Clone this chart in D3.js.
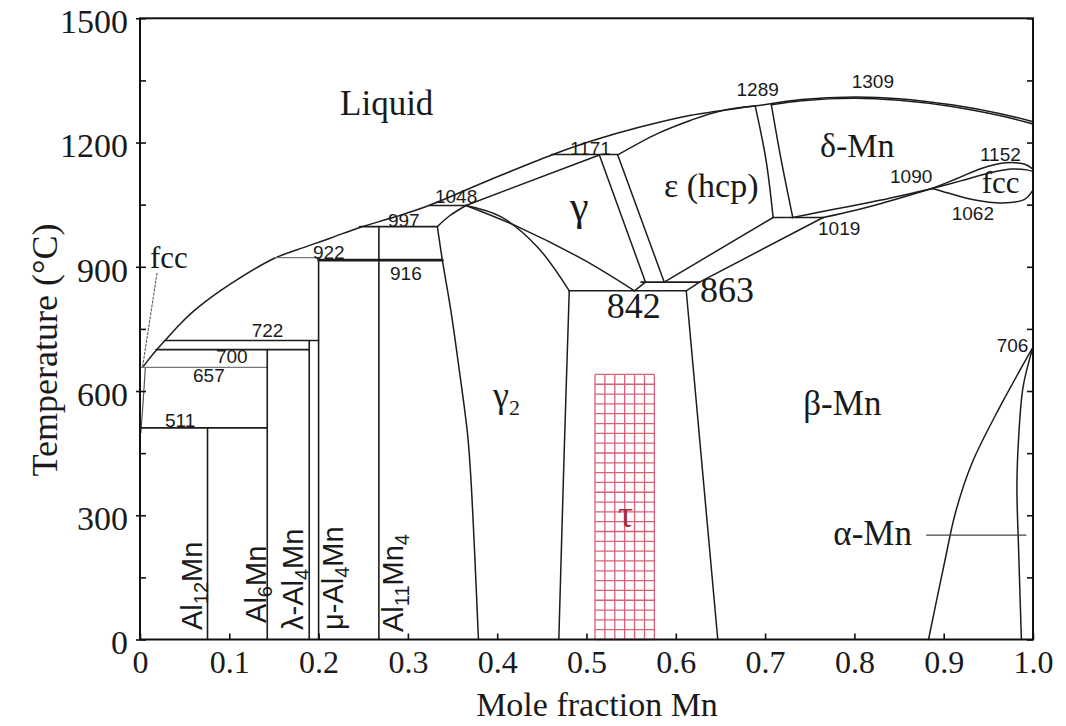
<!DOCTYPE html>
<html>
<head>
<meta charset="utf-8">
<script src="https://cdn.jsdelivr.net/npm/d3@7"></script>
<style>
  body { margin: 0; background: #fff; }
  svg text { fill: #1a1a1a; }
</style>
</head>
<body>
<svg id="chart" width="1066" height="726"></svg>
<script>
// ---------- axis ticks ----------
const xTickValues = [0, 0.1, 0.2, 0.3, 0.4, 0.5, 0.6, 0.7, 0.8, 0.9, 1.0];
const xTickLabels = ["0", "0.1", "0.2", "0.3", "0.4", "0.5", "0.6", "0.7", "0.8", "0.9", "1.0"];
const yTickValues = [0, 300, 600, 900, 1200, 1500];
const yTickLabels = ["0", "300", "600", "900", "1200", "1500"];
const yMinorTicks = [150, 450, 750, 1050, 1350];

// ---------- phase boundaries: [mole fraction Mn, temperature °C] ----------
const liquidus = [[0.003,657],[0.01,677],[0.018,698],[0.028,722],[0.045,762],[0.064,800],
  [0.101,858],[0.15,920],[0.176,941],[0.213,969],[0.246,995],[0.285,1020],[0.3236,1048],
  [0.392,1110],[0.461,1170],[0.509,1206],[0.561,1238],[0.617,1266],[0.688,1288],
  [0.741,1304],[0.80,1310],[0.85,1306],[0.909,1291],[0.965,1269],[1.0,1250]];
const epsilonSolidus = [[0.535,1170],[0.58,1222],[0.617,1254],[0.651,1277],[0.688,1288]];
const deltaSolidus = [[0.707,1291],[0.741,1301],[0.80,1307],[0.85,1302],[0.909,1287],[0.965,1264],[1.0,1245]];
const epsDeltaLeft = [[0.689,1288],[0.701,1158],[0.709,1019]];
const epsDeltaRight = [[0.707,1291],[0.718,1158],[0.731,1019]];
const epsilonLower = [[0.587,863],[0.709,1019]];
const betaUpper = [[0.6266,863],[0.765,1019]];
const deltaLower = [[0.731,1019],[0.78,1040],[0.83,1061],[0.887,1089]];
const deltaBetaLower = [[0.765,1019],[0.80,1036],[0.83,1053],[0.887,1089]];
const fccUpperOuter = [[0.887,1089],[0.915,1113],[0.943,1138],[0.97,1151],[0.99,1148],[1.0,1136]];
const fccUpperInner = [[0.887,1089],[0.92,1108],[0.95,1126],[0.975,1136],[0.993,1134],[1.0,1130]];
const fccLower = [[0.887,1089],[0.905,1078],[0.935,1061],[0.965,1054],[0.99,1062],[1.0,1085]];
const alphaLeft = [[1.0,706],[0.965,570],[0.9315,425],[0.913,305],[0.9015,192],[0.883,0]];
const alphaRight = [[1.0,706],[0.989,611],[0.984,490],[0.982,370],[0.984,209],[0.987,0]];
const alphaLeader = [[0.881,252],[0.992,252]];
const gamma2Left = [[0.333,997],[0.3386,916],[0.348,796],[0.357,659],[0.3667,498],[0.3704,394],[0.379,0]];
const gamma2Top = [[0.333,997],[0.346,1022],[0.365,1048]];
const gamma2Right = [[0.365,1048],[0.404,1021],[0.445,948],[0.4807,842]];
const tauLeft = [[0.4807,842],[0.4751,458],[0.469,0]];
const tauRight = [[0.6117,842],[0.647,0]];
const gammaEutectoid = [[0.365,1048],[0.4228,997],[0.4975,916],[0.5537,842]];
const gammaSolidus = [[0.365,1048],[0.5144,1170]];
const gammaEpsA = [[0.5144,1170],[0.566,863]];
const gammaEpsB = [[0.535,1170],[0.587,863]];
const link842 = [[0.5537,842],[0.566,863]];
const link863 = [[0.6117,842],[0.6266,863]];
const alSolvus = [[0.006,657],[0.004,590],[0.001,500]];
const fccLeader = [[0.003,660],[0.019,884]];

// invariant reactions: [temperature, from x, to x]
const isotherms = [[511,0,0.1425],[657,0,0.1425],[700,0.018,0.1895],[722,0.028,0.2],
  [922,0.15,0.2],[916,0.2,0.3386],[997,0.246,0.333],[1048,0.3236,0.365],
  [1171,0.461,0.535],[842,0.4807,0.6117],[863,0.561,0.6266],[1019,0.709,0.765]];

// intermetallic line compounds: name parts, composition, upper temperature
const compoundNames = [["Al","12","Mn",""],["Al","6","Mn",""],["λ-Al","4","Mn",""],["μ-Al","4","Mn",""],["Al","11","Mn","4"]];
const compoundX = [0.0756, 0.1425, 0.1895, 0.2, 0.2675];
const compoundTop = [511, 700, 722, 922, 997];
const compoundLabelAt = [[0.069,23],[0.141,40],[0.1825,23],[0.2273,23],[0.2945,18]];

// temperature annotations: text, anchor [x, T]
const tempLabels = ["1289","1309","1171","1048","997","922","916","722","700","657","511","1152","1090","1062","1019","706"];
const tempLabelAt = [[0.668,1312],[0.797,1331],[0.4815,1170],[0.3303,1053],[0.2777,997],
  [0.1937,918],[0.28,868],[0.1251,731],[0.0851,667],[0.0594,622],[0.028,514],
  [0.9406,1156],[0.8399,1102],[0.909,1013],[0.7593,977],[0.9593,695]];

// phase-field names: text, anchor [x, T]
const phaseNames = ["Liquid","γ","ε (hcp)","δ-Mn","fcc","fcc","β-Mn","α-Mn","842","863"];
const phaseAt = [[0.224,1266],[0.4815,1013],[0.5868,1068],[0.7615,1165],[0.9426,1077],
  [0.0112,896],[0.7428,542],[0.7764,228],[0.5226,776],[0.6271,816]];
const phaseSize = [35, 42, 34, 34, 31, 31, 35, 35, 36, 36];

// τ phase field
const tauX = [0.5095, 0.576];
const tauTop = 640;

// ---------- drawing ----------
const svg = d3.select("#chart");
const x = d3.scaleLinear().domain([0, 1]).range([140, 1033]);
const y = d3.scaleLinear().domain([0, 1500]).range([639.5, 18.3]);

const SERIF = "'Liberation Serif', 'Times New Roman', serif";
const SANS = "'Liberation Sans', Arial, sans-serif";
const INK = "#1c1c1c";

// τ hatched field
const hatch = svg.append("g").attr("stroke", "#d4506a").attr("stroke-width", 1.3).attr("opacity", 0.9);
const hx0 = x(tauX[0]), hx1 = x(tauX[1]), hy0 = y(tauTop), hy1 = y(0);
const nCols = 6, nRows = 27;
d3.range(nCols + 1).forEach(i => {
  const px = hx0 + (hx1 - hx0) * i / nCols;
  hatch.append("line").attr("x1", px).attr("x2", px).attr("y1", hy0).attr("y2", hy1);
});
d3.range(nRows + 1).forEach(i => {
  const py = hy0 + (hy1 - hy0) * i / nRows;
  hatch.append("line").attr("x1", hx0).attr("x2", hx1).attr("y1", py).attr("y2", py);
});

const curved = d3.line().x(d => x(d[0])).y(d => y(d[1])).curve(d3.curveCatmullRom.alpha(0.5));
const straight = d3.line().x(d => x(d[0])).y(d => y(d[1]));

const lines = svg.append("g").attr("fill", "none").attr("stroke", INK)
  .attr("stroke-width", 1.5).attr("stroke-linejoin", "round").attr("stroke-linecap", "round");

function draw(pts, smooth, width, color) {
  lines.append("path").attr("d", (smooth ? curved : straight)(pts))
    .attr("stroke-width", width || 1.5).attr("stroke", color || INK);
}

[liquidus, epsilonSolidus, deltaSolidus, epsDeltaLeft, epsDeltaRight, deltaLower, deltaBetaLower,
 fccUpperOuter, fccUpperInner, fccLower, alphaLeft, alphaRight, gamma2Left, gamma2Top,
 gamma2Right, tauLeft, gammaEutectoid].forEach(p => draw(p, true));
[epsilonLower, betaUpper, tauRight, gammaSolidus, gammaEpsA, gammaEpsB, link842, link863]
  .forEach(p => draw(p, false));
draw(alphaLeader, false, 1.3, "#444");
draw(alSolvus, true, 1.2, "#555");
lines.append("path").attr("d", straight(fccLeader)).attr("stroke", "#666")
  .attr("stroke-width", 1.2).attr("stroke-dasharray", "2,2");

// isotherms
isotherms.forEach(([T, a, b]) => {
  const thin = (T === 657 || T === 922);
  const heavy = (T === 916);
  lines.append("line").attr("x1", x(a)).attr("x2", x(b)).attr("y1", y(T)).attr("y2", y(T))
    .attr("stroke", thin ? "#777" : INK).attr("stroke-width", heavy ? 2.6 : (thin ? 1.3 : 1.6));
});

// compound lines
compoundX.forEach((cx, i) => {
  lines.append("line").attr("x1", x(cx)).attr("x2", x(cx)).attr("y1", y(compoundTop[i])).attr("y2", y(0))
    .attr("stroke-width", 1.6);
});

// frame and ticks
svg.append("rect").attr("x", x(0)).attr("y", y(1500)).attr("width", x(1) - x(0)).attr("height", y(0) - y(1500))
  .attr("fill", "none").attr("stroke", "#111").attr("stroke-width", 2);

function tickMarks(axis, tr, values, size) {
  const g = svg.append("g").attr("transform", tr)
    .call(axis.tickValues(values).tickSize(size).tickFormat(""));
  g.select(".domain").remove();
  g.selectAll("line").attr("stroke", "#111").attr("stroke-width", 1.6);
}
tickMarks(d3.axisBottom(x), `translate(0,${y(0)})`, xTickValues, -6);
tickMarks(d3.axisLeft(y), `translate(${x(0)},0)`, yTickValues.concat(yMinorTicks), -6);
tickMarks(d3.axisLeft(y), `translate(${x(0)},0)`, yTickValues, 4);
tickMarks(d3.axisRight(y), `translate(${x(1)},0)`, yTickValues.concat(yMinorTicks), -6);

// tick labels
const xl = svg.append("g").attr("transform", `translate(0,${y(0)})`)
  .call(d3.axisBottom(x).tickValues(xTickValues).tickSize(0).tickPadding(11)
    .tickFormat((d, i) => xTickLabels[i]));
xl.select(".domain").remove();
xl.selectAll("text").attr("font-family", SERIF).attr("font-size", 32).attr("fill", INK);

const yl = svg.append("g").attr("transform", `translate(${x(0)},0)`)
  .call(d3.axisLeft(y).tickValues(yTickValues).tickSize(0).tickPadding(12)
    .tickFormat((d, i) => yTickLabels[i]));
yl.select(".domain").remove();
yl.selectAll("text").attr("font-family", SERIF).attr("font-size", 34).attr("fill", INK).attr("dy", "0.42em");

// axis titles
svg.append("text").attr("x", 597).attr("y", 716).attr("text-anchor", "middle")
  .attr("font-family", SERIF).attr("font-size", 34).text("Mole fraction Mn");
svg.append("text").attr("transform", "translate(57,350) rotate(-90)").attr("text-anchor", "middle")
  .attr("font-family", SERIF).attr("font-size", 36).text("Temperature (°C)");

// temperature annotations
tempLabels.forEach((t, i) => {
  svg.append("text").attr("x", x(tempLabelAt[i][0])).attr("y", y(tempLabelAt[i][1]))
    .attr("font-family", SANS).attr("font-size", 19).attr("fill", "#151515").text(t);
});

// phase names
phaseNames.forEach((t, i) => {
  svg.append("text").attr("x", x(phaseAt[i][0])).attr("y", y(phaseAt[i][1]))
    .attr("font-family", SERIF).attr("font-size", phaseSize[i]).text(t);
});

// γ2 with subscript
const g2 = svg.append("text").attr("x", x(0.3953)).attr("y", y(561))
  .attr("font-family", SERIF).attr("font-size", 36);
g2.append("tspan").text("γ");
g2.append("tspan").attr("font-size", 22).attr("dy", 8).text("2");

// τ label
svg.append("text").attr("x", x(0.5437)).attr("y", y(272)).attr("text-anchor", "middle")
  .attr("font-family", SERIF).attr("font-size", 38).style("fill", "#a82c3c").text("τ");

// compound labels (vertical)
compoundNames.forEach((parts, i) => {
  const [cx, cT] = compoundLabelAt[i];
  const t = svg.append("text")
    .attr("transform", `translate(${x(cx)},${y(cT)}) rotate(-90)`)
    .attr("font-family", SANS).attr("font-size", 29).attr("fill", "#151515");
  t.append("tspan").text(parts[0]);
  t.append("tspan").attr("font-size", 20).attr("dy", 6).text(parts[1]);
  t.append("tspan").attr("dy", -6).text(parts[2]);
  if (parts[3]) t.append("tspan").attr("font-size", 20).attr("dy", 6).text(parts[3]);
});
</script>
</body>
</html>
